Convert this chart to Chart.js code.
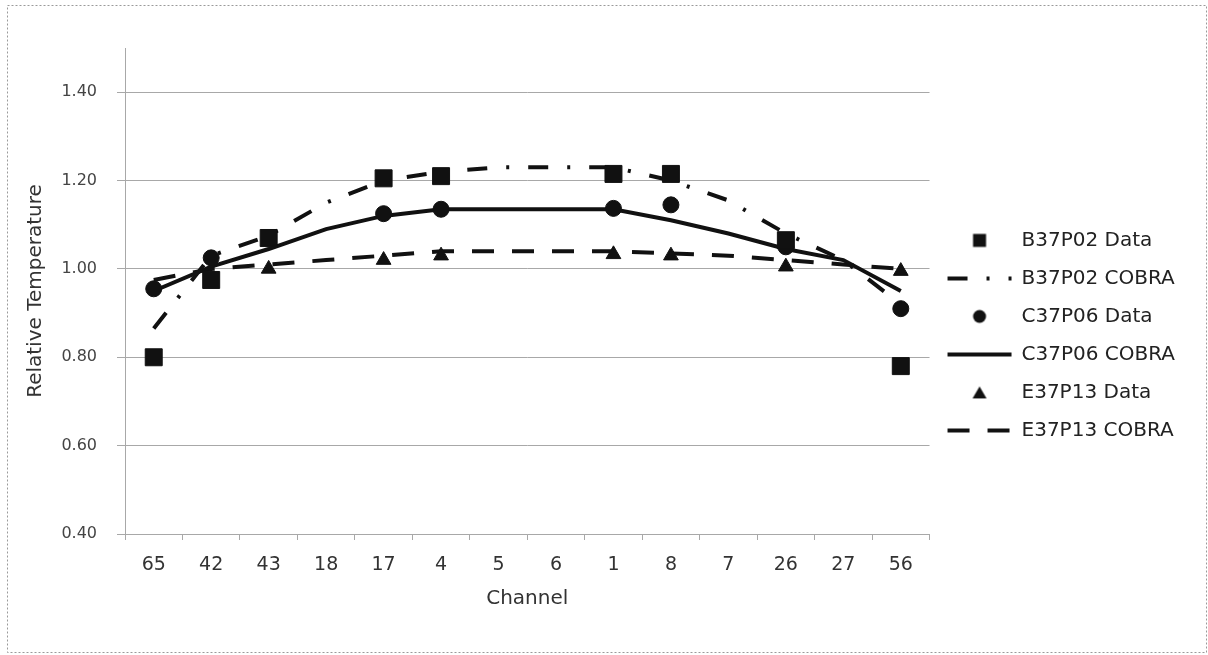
<!DOCTYPE html>
<html>
<head>
<meta charset="utf-8">
<script src="https://cdn.jsdelivr.net/npm/chart.js@4.4.1/dist/chart.umd.min.js"></script>
<style>
  html, body { margin: 0; padding: 0; background: #fff; }
  #wrap { width: 1208px; height: 655px; }
</style>
</head>
<body>
<div id="wrap"><canvas id="myChart" width="1208" height="655"></canvas></div>
<script>
// Channels along the x axis
const channels = ['65', '42', '43', '18', '17', '4', '5', '6', '1', '8', '7', '26', '27', '56'];

// Measured data (markers only) and COBRA predictions (lines)
const b37Data  = [0.80, 0.975, 1.07, null, 1.205, 1.21, null, null, 1.215, 1.215, null, 1.065, null, 0.78];
const b37Cobra = [0.865, 1.03, 1.075, 1.15, 1.20, 1.22, 1.23, 1.23, 1.23, 1.20, 1.155, 1.08, 1.02, 0.92];
const c37Data  = [0.955, 1.025, null, null, 1.125, 1.135, null, null, 1.137, 1.145, null, 1.05, null, 0.91];
const c37Cobra = [0.95, 1.005, 1.045, 1.09, 1.12, 1.135, 1.135, 1.135, 1.135, 1.11, 1.08, 1.045, 1.02, 0.95];
const e37Data  = [null, null, 1.00, null, 1.02, 1.03, null, null, 1.033, 1.03, null, 1.005, null, 0.995];
const e37Cobra = [0.975, 1.0, 1.01, 1.02, 1.03, 1.04, 1.04, 1.04, 1.04, 1.035, 1.03, 1.02, 1.01, 1.0];

const yTicks = [0.4, 0.6, 0.8, 1.0, 1.2, 1.4];

const ink = '#111';
const gridGray = '#a8a8a8';
const fontFam = '"DejaVu Sans", sans-serif';

// small marker pictures for the legend (so they are not stretched by pointStyleWidth)
function markerIcon(style) {
    const c = document.createElement('canvas');
    c.width = 16;
    c.height = 16;
    const g = c.getContext('2d');
    g.fillStyle = ink;
    if (style === 'rect') {
        g.fillRect(1.5, 1.5, 13, 13);
    } else if (style === 'circle') {
        g.beginPath();
        g.arc(8, 8, 6.5, 0, Math.PI * 2);
        g.fill();
    } else {
        g.beginPath();
        g.moveTo(8, 2);
        g.lineTo(15, 14);
        g.lineTo(1, 14);
        g.closePath();
        g.fill();
    }
    return c;
}

function dataSet(label, values, style, radius) {
    return {
        label: label,
        data: values,
        showLine: false,
        pointStyle: style,
        pointRadius: radius,
        pointHoverRadius: radius,
        pointBackgroundColor: ink,
        pointBorderColor: ink,
        pointBorderWidth: 1,
        backgroundColor: ink,
        borderColor: ink
    };
}

function cobraSet(label, values, dash) {
    return {
        label: label,
        data: values,
        borderColor: ink,
        backgroundColor: ink,
        borderWidth: 4,
        borderDash: dash,
        tension: 0,
        pointRadius: 0,
        pointHoverRadius: 0,
        spanGaps: true
    };
}

// dotted frame round the whole picture
const framePlugin = {
    id: 'frame',
    beforeDraw(chart) {
        const ctx = chart.ctx;
        ctx.save();
        ctx.strokeStyle = '#9a9a9a';
        ctx.lineWidth = 1;
        ctx.setLineDash([2, 2]);
        ctx.strokeRect(7.5, 5.5, 1199, 647);
        ctx.restore();
    }
};

const ctx = document.getElementById('myChart').getContext('2d');
const myChart = new Chart(ctx, {
    type: 'line',
    data: {
        labels: channels,
        datasets: [
            dataSet('B37P02 Data', b37Data, 'rect', 12),
            cobraSet('B37P02 COBRA', b37Cobra, [20, 19, 3, 19]),
            dataSet('C37P06 Data', c37Data, 'circle', 8),
            cobraSet('C37P06 COBRA', c37Cobra, []),
            dataSet('E37P13 Data', e37Data, 'triangle', 8.5),
            cobraSet('E37P13 COBRA', e37Cobra, [22, 18])
        ]
    },
    options: {
        responsive: false,
        animation: false,
        layout: { padding: { left: 10, top: 48, right: 23, bottom: 44 } },
        scales: {
            x: {
                offset: true,
                grid: {
                    offset: true,
                    drawOnChartArea: false,
                    color: gridGray,
                    tickLength: 6
                },
                border: { color: gridGray },
                ticks: {
                    color: '#333',
                    padding: 14,
                    maxRotation: 0,
                    autoSkip: false,
                    font: { family: fontFam, size: 19 }
                },
                title: {
                    display: true,
                    text: 'Channel',
                    color: '#333',
                    padding: { top: 4, bottom: 0 },
                    font: { family: fontFam, size: 20 }
                },
                afterFit(scale) { scale.height = 77; }
            },
            y: {
                min: 0.4,
                max: 1.5,
                ticks: {
                    stepSize: 0.2,
                    color: '#444',
                    padding: 20,
                    font: { family: fontFam, size: 16 },
                    callback: v => v.toFixed(2)
                },
                afterBuildTicks(scale) {
                    scale.ticks = yTicks.map(v => ({ value: v }));
                },
                grid: { color: gridGray, tickLength: 8 },
                border: { color: gridGray },
                title: {
                    display: true,
                    text: 'Relative Temperature',
                    color: '#333',
                    padding: { top: 14, bottom: 0 },
                    font: { family: fontFam, size: 20 }
                },
                afterFit(scale) { scale.width = 115; }
            }
        },
        plugins: {
            tooltip: { enabled: false },
            legend: {
                position: 'right',
                align: 'start',
                title: {
                    display: true,
                    text: ' ',
                    padding: { top: 150, bottom: 0 },
                    font: { size: 12 }
                },
                labels: {
                    usePointStyle: true,
                    pointStyleWidth: 64,
                    boxHeight: 13,
                    padding: 18,
                    color: '#222',
                    font: { family: fontFam, size: 20 },
                    generateLabels(chart) {
                        return chart.data.datasets.map((ds, i) => {
                            const isLine = ds.showLine !== false;
                            return {
                                text: ds.label,
                                datasetIndex: i,
                                fillStyle: ink,
                                strokeStyle: ink,
                                lineWidth: isLine ? 4 : 1,
                                lineDash: isLine ? ds.borderDash : [],
                                pointStyle: isLine ? 'line' : markerIcon(ds.pointStyle),
                                fontColor: '#222',
                                hidden: false
                            };
                        });
                    }
                }
            }
        }
    },
    plugins: [framePlugin]
});
</script>
</body>
</html>
